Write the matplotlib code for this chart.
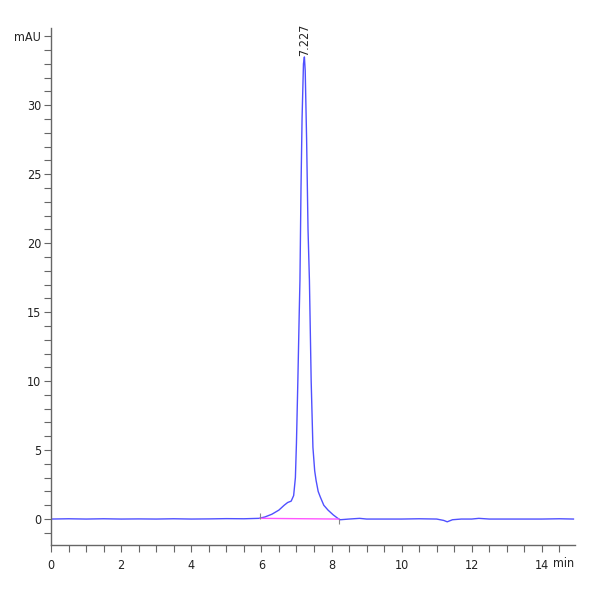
import matplotlib
matplotlib.use("Agg")
import matplotlib.pyplot as plt
from matplotlib.ticker import MultipleLocator

plt.rcParams['font.family'] = ['DejaVu Sans']
plt.rcParams['font.stretch'] = 'condensed'

# Chromatogram points (time in min, signal in mAU)
time = [0.0, 0.5, 1.0, 1.5, 2.0, 2.5, 3.0, 3.5, 4.0, 4.5, 5.0, 5.5, 5.93,
        6.1, 6.3, 6.5, 6.65, 6.75, 6.85, 6.92, 6.97, 7.0, 7.04, 7.08, 7.10,
        7.13, 7.16, 7.20, 7.227, 7.25, 7.29, 7.33, 7.37, 7.42, 7.47, 7.52,
        7.56, 7.62, 7.68, 7.78, 7.9, 8.05, 8.18, 8.25, 8.5, 8.8, 9.0, 9.5,
        10.0, 10.5, 11.0, 11.2, 11.3, 11.45, 11.7, 12.0, 12.2, 12.5, 13.0,
        13.5, 14.0, 14.5, 14.9]
signal = [0.0, 0.02, 0.0, 0.02, 0.0, 0.01, 0.0, 0.02, 0.0, 0.01, 0.03, 0.02, 0.05,
          0.15, 0.35, 0.65, 1.0, 1.2, 1.3, 1.7, 3.0, 5.5, 10.0, 15.0, 17.3,
          24.0, 29.0, 33.0, 33.5, 32.5, 27.5, 21.0, 17.3, 10.0, 5.2, 3.5,
          2.8, 2.0, 1.6, 1.0, 0.65, 0.3, 0.05, -0.05, 0.0, 0.05, 0.0, 0.0,
          0.0, 0.02, 0.0, -0.1, -0.2, -0.05, 0.0, 0.0, 0.05, 0.0, 0.0,
          0.0, 0.0, 0.02, 0.0]

# Integration baseline
base_t = [5.97, 8.21]
base_v = [0.05, 0.0]

peak_time = 7.227
peak_height = 33.5
peak_label = "7.227"

x_ticks = [0, 2, 4, 6, 8, 10, 12, 14]
y_ticks = [0, 5, 10, 15, 20, 25, 30, 35]
y_tick_labels = ["0", "5", "10", "15", "20", "25", "30", "mAU"]

fig = plt.figure(figsize=(6, 6), dpi=100)
ax = fig.add_axes([0.085, 0.0917, 0.8725, 0.8617])

ax.plot(time, signal, color='#5050ff', lw=1.0)
ax.plot(base_t, base_v, color='#ff55ff', lw=1.0)
ax.vlines(base_t[0], 0, 0.45, color='#888888', lw=0.8)
ax.vlines(base_t[1], 0, -0.35, color='#888888', lw=0.8)

ax.text(peak_time, peak_height + 0.1, peak_label, rotation=90, ha='center', va='bottom',
        fontsize=9, color='#222222')

ax.set_xlim(0, 14.93)
ax.set_ylim(-1.88, 35.6)

for s in ['top', 'right']:
    ax.spines[s].set_visible(False)
for s in ['left', 'bottom']:
    ax.spines[s].set_color('#666666')
    ax.spines[s].set_linewidth(1.0)

ax.set_xticks(x_ticks)
ax.set_yticks(y_ticks)
ax.set_yticklabels(y_tick_labels)
ax.xaxis.set_minor_locator(MultipleLocator(0.5))
ax.yaxis.set_minor_locator(MultipleLocator(1))
ax.tick_params(axis='both', which='both', direction='out', length=5, width=0.8,
               color='#666666', labelsize=9, labelcolor='#222222')
ax.tick_params(axis='y', pad=2)
ax.tick_params(axis='x', pad=5)

ax.text(14.93, -2.75, "min", ha='right', va='top', fontsize=9, color='#222222')

fig.savefig("out.png", dpi=100)
